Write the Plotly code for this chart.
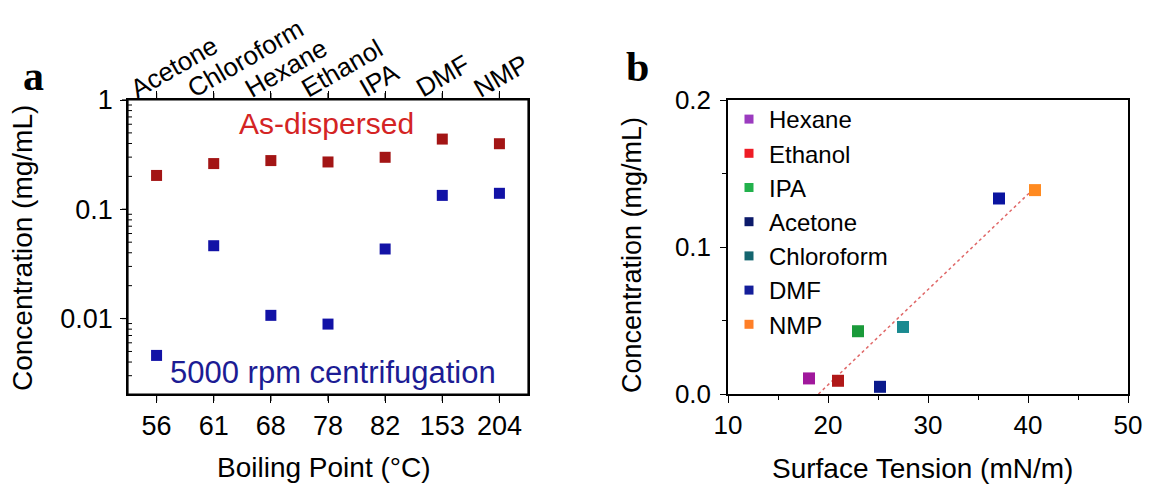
import numpy as np
import plotly.graph_objects as go

# ---------------- data ----------------
solvents_bp_order = ["Acetone", "Chloroform", "Hexane", "Ethanol", "IPA", "DMF", "NMP"]
boiling_points = ["56", "61", "68", "78", "82", "153", "204"]
conc_dispersed = [0.204, 0.262, 0.279, 0.271, 0.299, 0.439, 0.398]
conc_centrifuged = [0.0046, 0.0464, 0.0107, 0.0089, 0.0433, 0.134, 0.140]

legend_solvents = ["Hexane", "Ethanol", "IPA", "Acetone", "Chloroform", "DMF", "NMP"]
surface_tension = [18.1, 21.0, 23.0, 25.2, 27.5, 37.1, 40.7]
conc_surface = [0.0106, 0.0090, 0.0427, 0.0049, 0.0456, 0.133, 0.1387]

point_colors = ["#a0189c", "#b01818", "#1a9a3a", "#0a1a8c", "#1a8a90", "#0a14a0", "#ff8a20"]
legend_colors = ["#9b3bbf", "#ee1c25", "#22b14c", "#0c1a6a", "#14656f", "#141e9a", "#ff7f27"]

x_ticks_b = [10, 20, 30, 40, 50]
y_ticks_b = [0.0, 0.1, 0.2]
y_ticks_a = [0.01, 0.1, 1]

FONT = "Liberation Sans, Arial, sans-serif"
W, H = 1149, 486

def px_x(p):
    return p / W

def px_y(p):
    return 1 - p / H

minor_log = [round(m * 10.0 ** e, 6) for e in (-3, -2, -1) for m in range(2, 10)]
log_range = [float(np.log10(0.00204)), 0.0]

fig = go.Figure()

# ---------------- panel a ----------------
fig.add_trace(go.Scatter(x=boiling_points, y=conc_dispersed, mode="markers", xaxis="x", yaxis="y",
                         marker=dict(symbol="square", size=11, color="#a31515"), showlegend=False))
fig.add_trace(go.Scatter(x=boiling_points, y=conc_centrifuged, mode="markers", xaxis="x", yaxis="y",
                         marker=dict(symbol="square", size=11, color="#1212a6"), showlegend=False))

# ---------------- panel b ----------------
coef = np.polyfit(surface_tension, conc_surface, 1)
x_start = -coef[1] / coef[0]
x_end = max(surface_tension)
fit_x = [float(x_start), float(x_end)]
fit_y = [float(v) for v in np.polyval(coef, fit_x)]
fig.add_trace(go.Scatter(x=fit_x, y=fit_y, mode="lines", xaxis="x2", yaxis="y2",
                         line=dict(color="#e06868", width=1.5, dash="dot"), showlegend=False))

for name, xv, yv, pc, lc in zip(legend_solvents, surface_tension, conc_surface, point_colors, legend_colors):
    fig.add_trace(go.Scatter(x=[xv], y=[yv], mode="markers", xaxis="x2", yaxis="y2",
                             marker=dict(symbol="square", size=12, color=pc), showlegend=False))
    fig.add_trace(go.Scatter(x=[None], y=[None], mode="markers", xaxis="x2", yaxis="y2", name=name,
                             marker=dict(symbol="square", size=9, color=lc), showlegend=True))

dom_a = [px_x(128), px_x(528)]
dom_b = [px_x(728), px_x(1128)]
dom_y = [px_y(394), px_y(100)]

fig.update_layout(
    width=W, height=H,
    margin=dict(l=0, r=0, t=0, b=0, autoexpand=False),
    paper_bgcolor="white", plot_bgcolor="white",
    font=dict(family=FONT, color="black"),
    showlegend=True,
    legend=dict(x=px_x(729), y=px_y(97), xanchor="left", yanchor="top",
                font=dict(size=24, family=FONT, color="black"),
                bgcolor="rgba(0,0,0,0)", borderwidth=0, tracegroupgap=0),
    xaxis=dict(domain=dom_a, anchor="y", type="category", categoryorder="array",
               categoryarray=boiling_points, range=[-0.5, 6.5],
               ticks="outside", ticklen=7, tickwidth=1.2, tickcolor="black",
               showline=True, linecolor="black", linewidth=1.5, mirror="ticks", showgrid=False,
               zeroline=False, tickfont=dict(size=27)),
    yaxis=dict(domain=dom_y, anchor="x", type="log", range=log_range,
               tickmode="array", tickvals=y_ticks_a,
               ticks="outside", ticklen=6, tickwidth=1.2, tickcolor="black",
               showline=True, linecolor="black", linewidth=1.5, mirror=True,
               showgrid=False, zeroline=False, tickfont=dict(size=27), ticklabelstandoff=2),
    xaxis2=dict(domain=dom_b, anchor="y2", range=[10, 50], tickmode="array", tickvals=x_ticks_b,
                ticks="outside", ticklen=7, tickwidth=1.2, tickcolor="black",
                minor=dict(dtick=5, ticks="outside", ticklen=4, tickwidth=1, showgrid=False),
                showline=True, linecolor="black", linewidth=1.5, mirror=True,
                showgrid=False, zeroline=False, tickfont=dict(size=26), ticklabelstandoff=0),
    yaxis2=dict(domain=dom_y, anchor="x2", range=[0, 0.2], tickmode="array", tickvals=y_ticks_b,
                tickformat=".1f", ticks="outside", ticklen=6, tickwidth=1.2, tickcolor="black",
                minor=dict(dtick=0.05, ticks="outside", ticklen=4, tickwidth=1, showgrid=False),
                showline=True, linecolor="black", linewidth=1.5, mirror=True,
                showgrid=False, zeroline=False, tickfont=dict(size=26), ticklabelstandoff=4),
)

# ---- frame and tick marks of panel a, placed in paper space from the axis mapping ----
frame_line = dict(color="black", width=1.2)
tick_line = dict(color="black", width=1.2)
fig.add_shape(type="rect", xref="paper", yref="paper", x0=dom_a[0], x1=dom_a[1], y0=dom_y[0], y1=dom_y[1],
              line=frame_line, fillcolor="rgba(0,0,0,0)", layer="above")

n_cat = len(boiling_points)

def cat_to_paper(i):
    return dom_a[0] + (i + 0.5) / n_cat * (dom_a[1] - dom_a[0])

def log_to_paper(v):
    frac = (np.log10(v) - log_range[0]) / (log_range[1] - log_range[0])
    return float(dom_y[0] + frac * (dom_y[1] - dom_y[0]))

tick_dy = 7 / H
for i in range(n_cat):
    xp = cat_to_paper(i)
    fig.add_shape(type="line", xref="paper", yref="paper", x0=xp, x1=xp,
                  y0=dom_y[0], y1=dom_y[0] - tick_dy, line=tick_line, layer="above")
    fig.add_shape(type="line", xref="paper", yref="paper", x0=xp, x1=xp,
                  y0=dom_y[1], y1=dom_y[1] + tick_dy, line=tick_line, layer="above")
for v in y_ticks_a:
    yp = log_to_paper(v)
    fig.add_shape(type="line", xref="paper", yref="paper", x0=dom_a[0], x1=dom_a[0] - 6 / W,
                  y0=yp, y1=yp, line=tick_line, layer="above")
for v in minor_log:
    if np.log10(v) >= log_range[0]:
        yp = log_to_paper(v)
        fig.add_shape(type="line", xref="paper", yref="paper", x0=dom_a[0], x1=dom_a[0] + 4 / W,
                      y0=yp, y1=yp, line=dict(color="black", width=1), layer="above")

annotations = [
    dict(text="<b>a</b>", x=px_x(33), y=px_y(76), xref="paper", yref="paper", showarrow=False,
         xanchor="center", yanchor="middle", font=dict(family="Liberation Serif, Times New Roman, serif", size=42)),
    dict(text="<b>b</b>", x=px_x(637), y=px_y(67), xref="paper", yref="paper", showarrow=False,
         xanchor="center", yanchor="middle", font=dict(family="Liberation Serif, Times New Roman, serif", size=42)),
    dict(text="As-dispersed", x=px_x(326), y=px_y(123), xref="paper", yref="paper", showarrow=False,
         xanchor="center", yanchor="middle", font=dict(size=30, color="#d42424")),
    dict(text="5000 rpm centrifugation", x=px_x(333), y=px_y(372), xref="paper", yref="paper",
         showarrow=False, xanchor="center", yanchor="middle", font=dict(size=31, color="#1c1c94")),
    dict(text="Concentration (mg/mL)", x=px_x(22), y=px_y(248), xref="paper", yref="paper",
         showarrow=False, textangle=-90, xanchor="center", yanchor="middle", font=dict(size=28)),
    dict(text="Concentration (mg/mL)", x=px_x(632), y=px_y(255), xref="paper", yref="paper",
         showarrow=False, textangle=-90, xanchor="center", yanchor="middle", font=dict(size=27)),
    dict(text="Boiling Point (°C)", x=px_x(324), y=px_y(467), xref="paper", yref="paper",
         showarrow=False, xanchor="center", yanchor="middle", font=dict(size=28)),
    dict(text="Surface Tension (mN/m)", x=px_x(922), y=px_y(468), xref="paper", yref="paper",
         showarrow=False, xanchor="center", yanchor="middle", font=dict(size=28)),
]

# solvent names along the top edge of panel a (rotated category labels)
for i, name in enumerate(solvents_bp_order):
    annotations.append(dict(text=name, x=cat_to_paper(i), xref="paper", y=px_y(106), yref="paper",
                            xshift=-34, showarrow=False, textangle=-30, xanchor="left",
                            yanchor="bottom", font=dict(size=26)))

fig.update_layout(annotations=annotations)

fig.write_html("out.html")
